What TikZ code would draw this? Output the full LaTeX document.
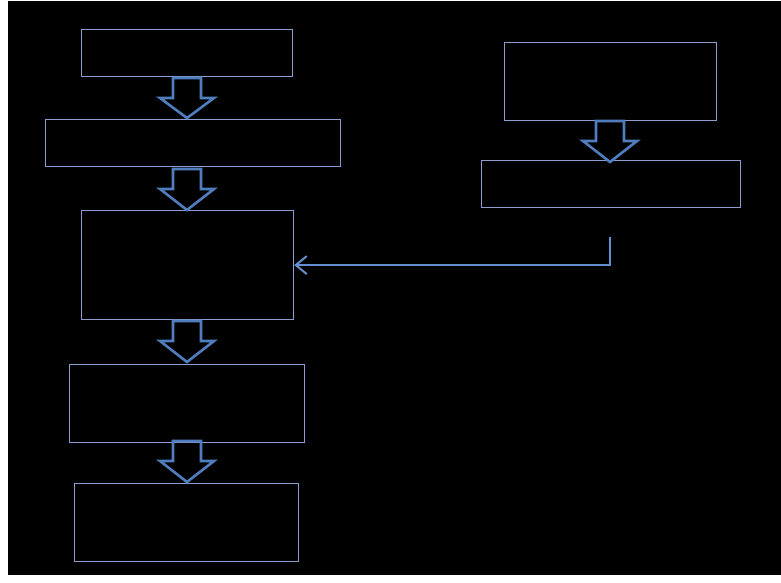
\documentclass[tikz,border=0pt]{standalone}
\usetikzlibrary{arrows.meta}
\definecolor{boxline}{RGB}{140,158,205}
\definecolor{arrline}{RGB}{80,125,190}
\definecolor{connline}{RGB}{100,145,205}
\tikzset{
  box/.style={draw=boxline, line width=1.2pt, fill=black, inner sep=0pt, anchor=north west},
  blk/.style={draw=arrline, line width=2.6pt, line join=miter},
  conn/.style={draw=connline, line width=2pt},
  blockarrow/.pic={
    \draw[blk] (-14,0) -- (14,0) -- (14,20) -- (27,20) -- (0,#1) -- (-27,20) -- (-14,20) -- cycle;
  }
}
\begin{document}
\begin{tikzpicture}[x=1pt,y=-1pt]
\useasboundingbox (0,0) rectangle (781,583);
\fill[white] (0,0) rectangle (781,583);
\fill[black] (8,1) rectangle (781,575);

\node[box, minimum width=211pt, minimum height=47pt] (A) at (81,29) {};
\node[box, minimum width=295pt, minimum height=47pt] (B) at (45,119) {};
\node[box, minimum width=212pt, minimum height=109pt] (C) at (81,210) {};
\node[box, minimum width=235pt, minimum height=78pt] (D) at (69,364) {};
\node[box, minimum width=224pt, minimum height=78pt] (E) at (74,483) {};
\node[box, minimum width=212pt, minimum height=78pt] (F) at (504,42) {};
\node[box, minimum width=259pt, minimum height=47pt] (G) at (481,160) {};

\pic at (187,78) {blockarrow=40};
\pic at (187,169) {blockarrow=41};
\pic at (187,321) {blockarrow=41};
\pic at (187,441) {blockarrow=41};
\pic at (610,121) {blockarrow=41};

\coordinate (s) at (610,237);
\draw[conn, -{Straight Barb[length=11pt,width=18pt,line width=2pt]}] (s) |- (C.east);
\end{tikzpicture}
\end{document}
